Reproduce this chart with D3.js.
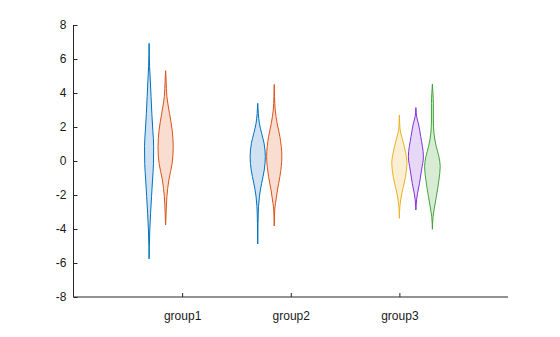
<!DOCTYPE html>
<html><head><meta charset="utf-8">
<script src="https://cdn.jsdelivr.net/npm/d3@7"></script>
<style>body{margin:0;background:#fff}svg{display:block}</style>
</head><body><svg id="c" width="560" height="337"></svg>
<script>
const categories = ["group1", "group2", "group3"];
const yTicks = [-8, -6, -4, -2, 0, 2, 4, 6, 8];
const seriesNames = ["s1", "s2", "s3", "s4", "s5"];
const seriesColors = ["#0072BD", "#D95319", "#EDB120", "#8232D8", "#3FA43A"];
const seriesFills = ["#cfe1f2", "#f8ddd0", "#fbefd3", "#e6d8f6", "#d8ecd4"];
// density profiles: [value, density]
const g1s1 = [[6.92,0],[5.55,0.5],[4.76,1.2],[3.78,2],[2.8,2.8],[1.82,3.8],[0.84,4.7],[-0.14,4.5],[-1.12,3.5],[-2.1,2.5],[-3.08,1.5],[-4.06,0.7],[-5.04,0.2],[-5.76,0]];
const g1s2 = [[5.31,0],[4.76,0.5],[3.78,1.3],[2.8,4],[1.82,6.7],[0.84,7.8],[-0.14,6.7],[-1.12,3.3],[-2.1,1.3],[-3.08,0.5],[-3.76,0]];
const g2s1 = [[3.39,0],[2.8,0.6],[2.22,1.7],[1.63,4],[1.04,6.5],[0.25,7.8],[-0.53,6.7],[-1.31,4],[-2.1,1.7],[-2.69,0.8],[-3.66,0.3],[-4.88,0]];
const g2s2 = [[4.5,0],[3.78,0.3],[3.0,1],[2.22,3],[1.43,5.8],[0.25,7.8],[-0.92,5.8],[-1.7,3.3],[-2.49,1.3],[-2.88,0.5],[-3.82,0]];
const g3s3 = [[2.7,0],[2.22,0.3],[1.82,0.8],[1.24,3.3],[0.65,5.8],[-0.14,7.8],[-0.92,6.3],[-1.7,3.3],[-2.29,1.3],[-2.69,0.5],[-3.37,0]];
const g3s4 = [[3.14,0],[2.6,0.8],[2.22,2.5],[1.43,5],[0.25,7.7],[-0.53,5.8],[-1.31,3.7],[-1.9,1.7],[-2.29,0.7],[-2.88,0]];
const g3s5 = [[4.53,0],[3.98,0.6],[3.39,1.0],[2.41,1.0],[1.63,1.6],[0.84,4],[0.25,6.7],[-0.33,8],[-1.12,6.7],[-2.1,4],[-2.88,1.7],[-3.27,0.7],[-4.02,0]];
const violins = [
  {cat:"group1", series:0, slot:-2, dens:g1s1},
  {cat:"group1", series:1, slot:-1, dens:g1s2},
  {cat:"group2", series:0, slot:-2, dens:g2s1},
  {cat:"group2", series:1, slot:-1, dens:g2s2},
  {cat:"group3", series:2, slot:0, dens:g3s3},
  {cat:"group3", series:3, slot:1, dens:g3s4},
  {cat:"group3", series:4, slot:2, dens:g3s5}
];

const svg = d3.select("#c");
const L = 73.5, R = 508, T = 25, B = 297;
const x = d3.scaleLinear().domain([0, 4]).range([L, R]);
const y = d3.scaleLinear().domain([-8, 8]).range([B, T]);
const slotW = 0.152;
const w = d3.scaleLinear().domain([0, 8]).range([0, 7.8]);

violins.forEach(v => {
  const cx = x(categories.indexOf(v.cat) + 1 + v.slot * slotW);
  const area = d3.area()
    .y(d => y(d[0]))
    .x0(d => cx - w(d[1]))
    .x1(d => cx + w(d[1]))
    .curve(d3.curveMonotoneY);
  svg.append("path").datum(v.dens)
    .attr("d", area)
    .attr("fill", seriesFills[v.series])
    .attr("stroke", seriesColors[v.series])
    .attr("stroke-width", 1);
});

const font = '"Liberation Sans",Arial,Helvetica,sans-serif';
const yAxis = d3.axisLeft(y).tickValues(yTicks).tickSize(-4).tickPadding(7).tickFormat(d => String(d));
const gy = svg.append("g").attr("transform", `translate(${L},0)`).call(yAxis);
const xAxis = d3.axisBottom(x).tickValues([1,2,3]).tickSize(-4).tickPadding(14).tickFormat(d => categories[d-1]);
const gx = svg.append("g").attr("transform", `translate(0,${B})`).call(xAxis);
[gy, gx].forEach(g => {
  g.select(".domain").attr("stroke", "#262626");
  g.selectAll(".tick line").attr("stroke", "#262626");
  g.selectAll("text").attr("font-size", 12).attr("fill", "#1a1a1a").attr("font-family", font);
});
gy.select(".domain").attr("d", `M0,${T}V${B}`);
gx.select(".domain").attr("d", `M${L},0H${R}`);
</script></body></html>
